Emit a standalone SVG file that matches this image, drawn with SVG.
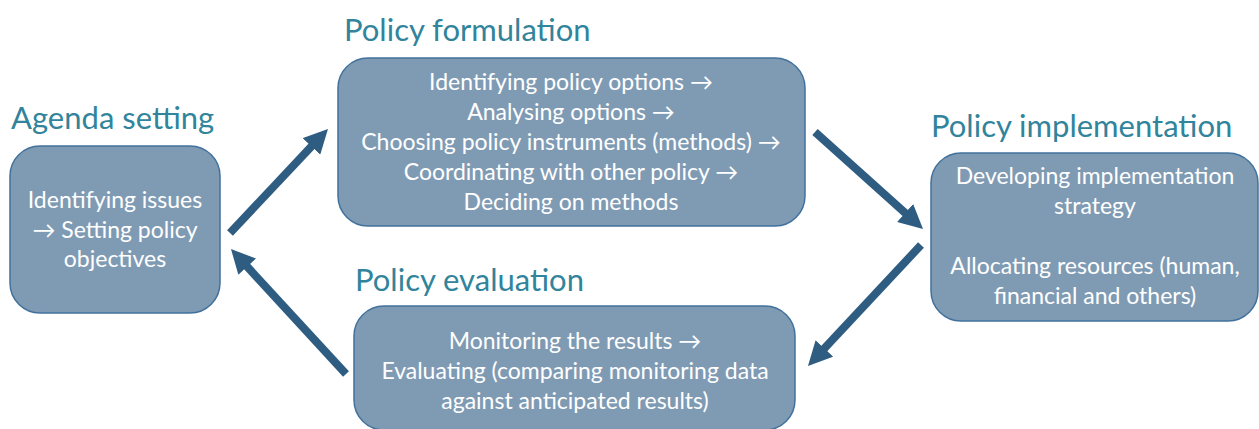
<svg xmlns="http://www.w3.org/2000/svg" width="1259" height="429" viewBox="0 0 1259 429">
<defs>
<style>
.title{font-family:Lato,"Open Sans","Liberation Sans",sans-serif;font-size:31px;fill:#31849B}
.box{fill:#7F9BB4;stroke:#41719C;stroke-width:1.5}
.body{font-family:Lato,"Open Sans","Liberation Sans",sans-serif;font-size:23px;fill:#FFFFFF;text-anchor:middle}
.arr{stroke:#2F5C81;stroke-width:8;fill:none;marker-end:url(#ah)}
</style>
<marker id="ah" markerUnits="strokeWidth" markerWidth="3" markerHeight="3" refX="1" refY="1.5" orient="auto">
<path d="M0,0 L3,1.5 L0,3 z" fill="#2F5C81"/>
</marker>
</defs>
<rect width="1259" height="429" fill="#FFFFFF"/>
<g id="connectors">
<line class="arr" x1="230" y1="233" x2="317" y2="140.6"/>
<line class="arr" x1="815" y1="132" x2="911.1" y2="218.3"/>
<line class="arr" x1="921" y1="245" x2="818.9" y2="354.3"/>
<line class="arr" x1="346" y1="374" x2="241.8" y2="260.8"/>
</g>
<g id="agenda">
<text class="title" x="11" y="129">Agenda setting</text>
<rect class="box" x="10" y="146" width="210" height="167" rx="30"/>
<text class="body" x="115" y="208">Identifying issues</text>
<text class="body" x="115" y="238">→ Setting policy</text>
<text class="body" x="115" y="267">objectives</text>
</g>
<g id="formulation">
<text class="title" x="344" y="41">Policy formulation</text>
<rect class="box" x="338" y="58" width="467" height="168" rx="30"/>
<text class="body" x="571" y="90">Identifying policy options →</text>
<text class="body" x="571" y="120">Analysing options →</text>
<text class="body" x="571" y="150">Choosing policy instruments (methods) →</text>
<text class="body" x="571" y="180">Coordinating with other policy →</text>
<text class="body" x="571" y="210">Deciding on methods</text>
</g>
<g id="implementation">
<text class="title" x="931" y="137">Policy implementation</text>
<rect class="box" x="931" y="153" width="327" height="168" rx="30"/>
<text class="body" x="1095" y="184">Developing implementation</text>
<text class="body" x="1095" y="214">strategy</text>
<text class="body" x="1095" y="274">Allocating resources (human,</text>
<text class="body" x="1095" y="304">financial and others)</text>
</g>
<g id="evaluation">
<text class="title" x="355" y="291">Policy evaluation</text>
<rect class="box" x="354" y="306" width="441" height="124" rx="30"/>
<text class="body" x="575" y="349">Monitoring the results →</text>
<text class="body" x="575" y="379">Evaluating (comparing monitoring data</text>
<text class="body" x="575" y="409">against anticipated results)</text>
</g>
</svg>
